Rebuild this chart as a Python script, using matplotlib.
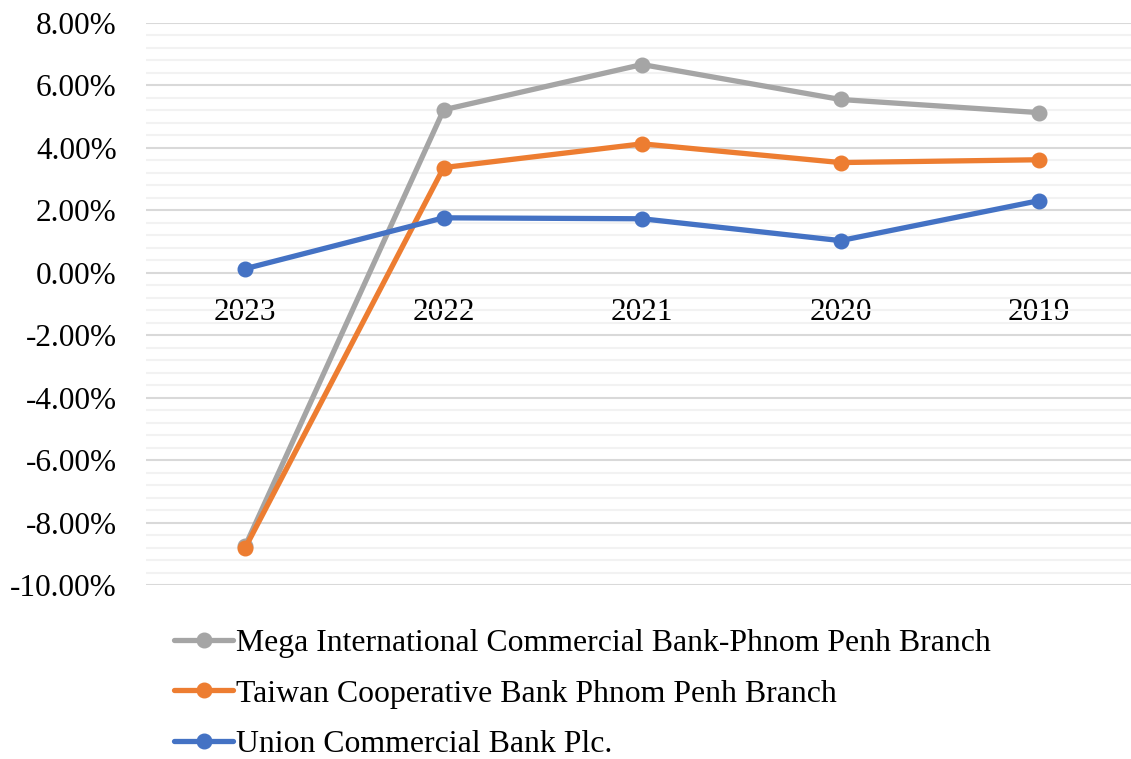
import matplotlib
matplotlib.use("Agg")
import matplotlib.pyplot as plt
from matplotlib.ticker import MultipleLocator, FuncFormatter

years = ["2023", "2022", "2021", "2020", "2019"]
mega = [-8.75, 5.22, 6.67, 5.55, 5.13]
taiwan = [-8.81, 3.37, 4.13, 3.53, 3.62]
union = [0.13, 1.76, 1.73, 1.03, 2.31]

series_names = [
    "Mega International Commercial Bank-Phnom Penh Branch",
    "Taiwan Cooperative Bank Phnom Penh Branch",
    "Union Commercial Bank Plc.",
]
colors = ["#A5A5A5", "#ED7D31", "#4472C4"]

plt.rcParams['font.family'] = ['Liberation Serif', 'DejaVu Serif']

fig = plt.figure(figsize=(11.31, 7.59), dpi=100)
ax = fig.add_axes([146/1131, 1-585/759, 1-146/1131, (585-23)/759])

x = list(range(len(years)))
handles = []
for vals, name, c in zip([mega, taiwan, union], series_names, colors):
    h, = ax.plot(x, vals, color=c, lw=3.8, marker='o', ms=10.5, label=name,
                 solid_capstyle='round', zorder=3)
    handles.append(h)

ax.set_ylim(-10, 8)
ax.set_xlim(-0.5, (1131-245)/198.5)
ax.yaxis.set_major_locator(MultipleLocator(2))
ax.yaxis.set_minor_locator(MultipleLocator(0.4))
ax.yaxis.set_major_formatter(FuncFormatter(lambda v, p: f"{v:.2f}%"))
ax.grid(which='major', axis='y', color='#D9D9D9', lw=1.5, zorder=0)
ax.grid(which='minor', axis='y', color='#F2F2F2', lw=1.5, zorder=0)
ax.set_axisbelow(True)
ax.set_xticks(x)
ax.set_xticklabels(years)
for s in ax.spines.values():
    s.set_visible(False)
ax.spines['bottom'].set_position(('data', 0))
ax.tick_params(axis='x', length=0, pad=18, labelsize=22.5)
ax.tick_params(axis='y', which='both', length=0, pad=21, labelsize=22.5)

fig.legend(handles=handles, loc='upper left', bbox_to_anchor=(174/1131, 1-629/759),
           frameon=False, fontsize=22.9, handlelength=1.86, handletextpad=0.1,
           labelspacing=0.66, borderaxespad=0, borderpad=0)

fig.savefig("out.png", dpi=100)
